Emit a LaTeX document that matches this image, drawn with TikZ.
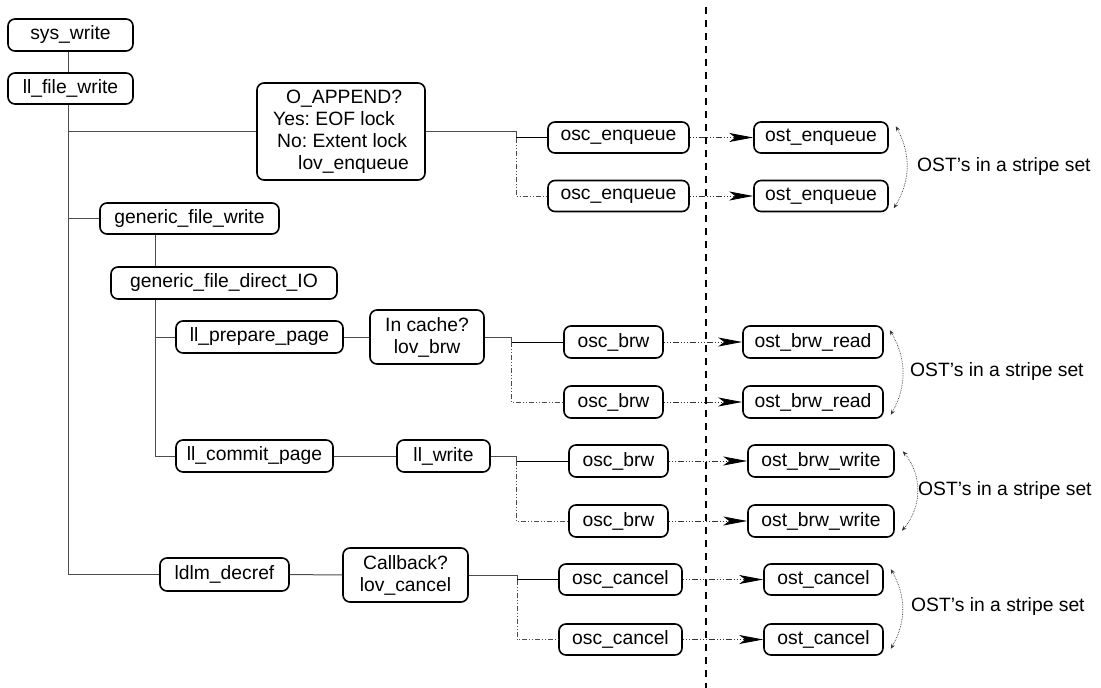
\documentclass[tikz,border=0pt]{standalone}
\usepackage{fontspec}
\setmainfont{Liberation Sans}
\usetikzlibrary{arrows.meta}
\newcommand\diagfont{\fontsize{19.3}{22}\selectfont\frenchspacing}
\tikzset{
  box/.style={draw, line width=1.6pt, rounded corners=7pt, inner sep=0pt, font=\diagfont, align=center},
  conn/.style={line width=1pt, black!70},
  solidfork/.style={line width=1pt, black},
  dashfork/.style={line width=0.9pt, black!70, dash pattern=on 5pt off 2pt on 1pt off 2pt on 1pt off 2pt},
  req/.style={line width=0.9pt, black!80, dash pattern=on 1pt off 2pt on 1pt off 2pt on 1pt off 2pt on 6pt off 2pt,
     -{Stealth[length=24pt,width=9pt,inset=6pt,black]}},
  curv/.style={line width=0.7pt, black!80, densely dotted, {Stealth[length=5pt,width=4pt]}-{Stealth[length=5pt,width=4pt]}},
  divider/.style={line width=2pt, dash pattern=on 7pt off 6pt},
  lbl/.style={font=\diagfont, anchor=west, inner sep=0pt}
}
\begin{document}
\begin{tikzpicture}[x=1pt,y=-1pt]
\useasboundingbox (0,0) rectangle (1101,688);
% left side nodes
\node[box, minimum width=125pt, minimum height=32pt] (sys) at (70.5,35) {sys\_write};
\node[box, minimum width=125pt, minimum height=31pt] (llf) at (70.5,88.5) {ll\_file\_write};
\node[box, minimum width=168pt, minimum height=97pt, align=left] (app) at (341,131.5)
  {\hspace*{13pt}O\_APPEND?\\Yes: EOF lock\\\hspace*{4pt}No: Extent lock\\\hspace*{25pt}lov\_enqueue};
\node[box, minimum width=179pt, minimum height=31pt] (gfw) at (189.5,218.5) {generic\_file\_write};
\node[box, minimum width=226pt, minimum height=32pt] (gdio) at (224,283) {generic\_file\_direct\_IO};
\node[box, minimum width=167pt, minimum height=32pt] (llpp) at (259.5,337) {ll\_prepare\_page};
\node[box, minimum width=114pt, minimum height=54pt] (cache) at (427,337) {In cache?\\lov\_brw};
\node[box, minimum width=157pt, minimum height=32pt] (llcp) at (254.5,456) {ll\_commit\_page};
\node[box, minimum width=93pt, minimum height=32pt] (llw) at (443.5,456) {ll\_write};
\node[box, minimum width=129pt, minimum height=33pt] (ldlm) at (224.5,574.5) {ldlm\_decref};
\node[box, minimum width=125pt, minimum height=54pt] (cb) at (405.5,575) {Callback?\\lov\_cancel};
% osc nodes
\node[box, minimum width=141pt, minimum height=31pt] (oscE1) at (618.5,137.5) {osc\_enqueue};
\node[box, minimum width=141pt, minimum height=31pt] (oscE2) at (618.5,196) {osc\_enqueue};
\node[box, minimum width=99pt, minimum height=32pt] (oscR1) at (613.5,342) {osc\_brw};
\node[box, minimum width=99pt, minimum height=32pt] (oscR2) at (613.5,402) {osc\_brw};
\node[box, minimum width=99pt, minimum height=32pt] (oscW1) at (618.5,461) {osc\_brw};
\node[box, minimum width=99pt, minimum height=32pt] (oscW2) at (618.5,521) {osc\_brw};
\node[box, minimum width=123pt, minimum height=31pt] (oscC1) at (620.5,579.5) {osc\_cancel};
\node[box, minimum width=123pt, minimum height=31pt] (oscC2) at (620.5,639.5) {osc\_cancel};
% ost nodes
\node[box, minimum width=134pt, minimum height=31pt] (ostE1) at (821,137.5) {ost\_enqueue};
\node[box, minimum width=134pt, minimum height=31pt] (ostE2) at (821,196) {ost\_enqueue};
\node[box, minimum width=140pt, minimum height=32pt] (ostR1) at (813,342) {ost\_brw\_read};
\node[box, minimum width=140pt, minimum height=32pt] (ostR2) at (813,402) {ost\_brw\_read};
\node[box, minimum width=146pt, minimum height=32pt] (ostW1) at (821,461) {ost\_brw\_write};
\node[box, minimum width=146pt, minimum height=32pt] (ostW2) at (821,521) {ost\_brw\_write};
\node[box, minimum width=119pt, minimum height=31pt] (ostC1) at (823.5,579.5) {ost\_cancel};
\node[box, minimum width=119pt, minimum height=31pt] (ostC2) at (823.5,639.5) {ost\_cancel};
% labels
\node[lbl] (lE) at (917,167) {OST’s in a stripe set};
\node[lbl] (lR) at (910,372) {OST’s in a stripe set};
\node[lbl] (lW) at (918,491) {OST’s in a stripe set};
\node[lbl] (lC) at (911,607) {OST’s in a stripe set};
% divider
\coordinate (dtop) at (706,7);
\coordinate (dbot) at (706,688);
\draw[divider] (dtop) -- (dbot);
% trunk
\coordinate (t) at (68,0);
\coordinate (g) at (155,0);
\draw[conn] (sys.south -| t) -- (llf.north -| t);
\draw[conn] (llf.south -| t) |- (ldlm.west);
\draw[conn] (app.west -| t) -- (app.west);
\draw[conn] (gfw.west -| t) -- (gfw.west);
\draw[conn] (gfw.south -| g) -- (gdio.north -| g);
\draw[conn] (gdio.south -| g) |- (llcp.west);
\draw[conn] (llpp.west -| g) -- (llpp.west);
\draw[conn] (llpp) -- (cache);
\draw[conn] (llcp) -- (llw);
\draw[conn] (ldlm) -- (cb);
% forks
\coordinate (fE) at (516,131.5);
\coordinate (fR) at (511,337);
\coordinate (fW) at (516,456);
\coordinate (fC) at (517,575);
\draw[conn] (app.east) -- (fE) -- (fE |- oscE1.west);
\draw[solidfork] (fE |- oscE1.west) -- (oscE1.west);
\draw[dashfork] (fE |- oscE1.west) |- (oscE2.west);
\draw[conn] (cache.east) -- (fR) -- (fR |- oscR1.west);
\draw[solidfork] (fR |- oscR1.west) -- (oscR1.west);
\draw[dashfork] (fR |- oscR1.west) |- (oscR2.west);
\draw[conn] (llw.east) -- (fW) -- (fW |- oscW1.west);
\draw[solidfork] (fW |- oscW1.west) -- (oscW1.west);
\draw[dashfork] (fW |- oscW1.west) |- (oscW2.west);
\draw[conn] (cb.east) -- (fC) -- (fC |- oscC1.west);
\draw[solidfork] (fC |- oscC1.west) -- (oscC1.west);
\draw[dashfork] (fC |- oscC1.west) |- (oscC2.west);
% requests
\draw[req] (oscE1) -- (ostE1);
\draw[req] (oscE2) -- (ostE2);
\draw[req] (oscR1) -- (ostR1);
\draw[req] (oscR2) -- (ostR2);
\draw[req] (oscW1) -- (ostW1);
\draw[req] (oscW2) -- (ostW2);
\draw[req] (oscC1) -- (ostC1);
\draw[req] (oscC2) -- (ostC2);
% stripe set arrows
\draw[curv] ([xshift=7pt,yshift=-5pt]ostE1.north east) to[bend left=30] ([xshift=5pt,yshift=4pt]ostE2.south east);
\draw[curv] ([xshift=6pt,yshift=-5pt]ostR1.north east) to[bend left=30] ([xshift=7pt,yshift=4pt]ostR2.south east);
\draw[curv] ([xshift=8pt,yshift=-7pt]ostW1.north east) to[bend left=40] ([xshift=7pt,yshift=7pt]ostW2.south east);
\draw[curv] ([xshift=7pt,yshift=-6pt]ostC1.north east) to[bend left=30] ([xshift=7pt,yshift=7pt]ostC2.south east);
\end{tikzpicture}
\end{document}
